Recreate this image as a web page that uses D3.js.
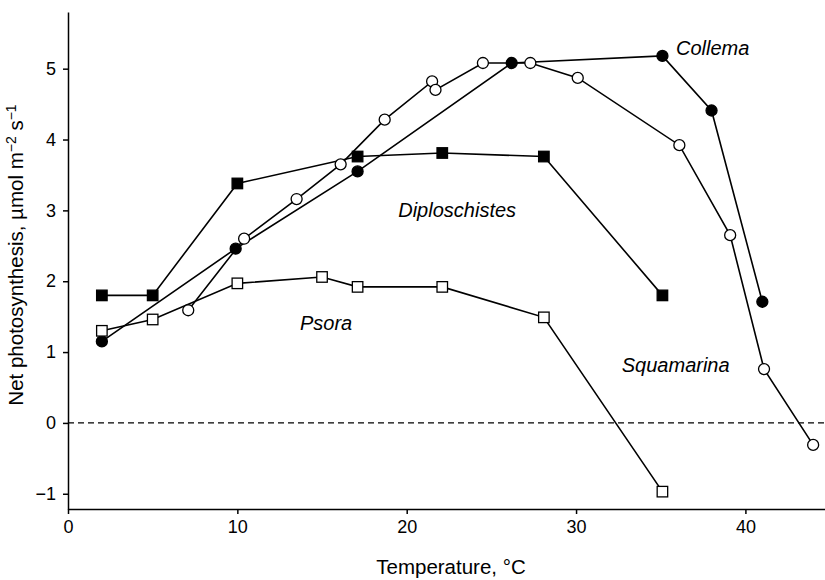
<!DOCTYPE html>
<html>
<head>
<meta charset="utf-8">
<script src="https://cdn.jsdelivr.net/npm/d3@7"></script>
<style>
  body { margin: 0; background: #fff; }
  svg text { font-family: "Liberation Sans", Arial, sans-serif; fill: #000; }
  .axis path, .axis line { stroke: #000; stroke-width: 1.5; }
  .axis text { font-size: 18px; }
  .line { fill: none; stroke: #000; stroke-width: 1.6; }
  .species { font-size: 20px; font-style: italic; }
</style>
</head>
<body>
<div id="chart"></div>
<script>
// Data (temperature, net photosynthesis)
var collemaT = [2, 9.9, 17.1, 26.2, 35.1, 38.0, 41.0];
var collemaP = [1.15, 2.46, 3.55, 5.08, 5.18, 4.41, 1.71];

var squamarinaT = [7.1, 10.4, 13.5, 16.1, 18.7, 21.5, 21.7, 24.5, 27.3, 30.1, 36.1, 39.1, 41.1, 44.0];
var squamarinaP = [1.59, 2.6, 3.16, 3.65, 4.28, 4.82, 4.70, 5.08, 5.08, 4.87, 3.92, 2.65, 0.76, -0.31];

var diploT = [2, 5, 10, 17.1, 22.1, 28.1, 35.1];
var diploP = [1.80, 1.80, 3.38, 3.76, 3.81, 3.76, 1.80];

var psoraT = [2, 5, 10, 15, 17.1, 22.1, 28.1, 35.1];
var psoraP = [1.30, 1.46, 1.97, 2.06, 1.92, 1.92, 1.49, -0.97];

var xTicks = [0, 10, 20, 30, 40];
var yTicks = [-1, 0, 1, 2, 3, 4, 5];

// Dimensions
var W = 825, H = 580;
var margins = {top: 12, right: 0, bottom: 71, left: 68};

var svg = d3.select("#chart").append("svg")
  .attr("width", W)
  .attr("height", H);

var x = d3.scaleLinear().domain([0, 44.7]).range([margins.left, W - margins.right]);
var y = d3.scaleLinear().domain([-1.215, 5.8]).range([H - margins.bottom, margins.top]);

function zip(ts, ps) {
  return ts.map(function(t, i) { return {t: t, p: ps[i]}; });
}

var series = [
  {name: "Collema", data: zip(collemaT, collemaP), shape: "circle", fill: "#000"},
  {name: "Squamarina", data: zip(squamarinaT, squamarinaP), shape: "circle", fill: "#fff"},
  {name: "Diploschistes", data: zip(diploT, diploP), shape: "square", fill: "#000"},
  {name: "Psora", data: zip(psoraT, psoraP), shape: "square", fill: "#fff"}
];

// Axes
svg.append("g")
  .attr("class", "axis")
  .attr("transform", "translate(0," + y.range()[0] + ")")
  .call(d3.axisBottom(x).tickValues(xTicks).tickSize(5).tickSizeOuter(0).tickPadding(6));

svg.append("g")
  .attr("class", "axis")
  .attr("transform", "translate(" + margins.left + ",0)")
  .call(d3.axisLeft(y).tickValues(yTicks).tickSize(5).tickSizeOuter(0).tickPadding(7)
    .tickFormat(function(d) { return d < 0 ? "\u2212" + Math.abs(d) : d; }));

// zero line
svg.append("line")
  .attr("x1", x(0)).attr("x2", x.range()[1])
  .attr("y1", y(0)).attr("y2", y(0))
  .attr("stroke", "#000")
  .attr("stroke-width", 1.2)
  .attr("stroke-dasharray", "6,4");

var line = d3.line()
  .x(function(d) { return x(d.t); })
  .y(function(d) { return y(d.p); });

// lines first, then markers on top
series.forEach(function(s) {
  svg.append("path").datum(s.data)
    .attr("class", "line")
    .attr("d", line);
});

series.forEach(function(s) {
  var g = svg.append("g");
  if (s.shape == "circle") {
    g.selectAll("circle").data(s.data).enter().append("circle")
      .attr("cx", function(d) { return x(d.t); })
      .attr("cy", function(d) { return y(d.p); })
      .attr("r", 5.5)
      .attr("fill", s.fill)
      .attr("stroke", "#000")
      .attr("stroke-width", 1.3);
  } else {
    var sz = 10.5;
    g.selectAll("rect").data(s.data).enter().append("rect")
      .attr("x", function(d) { return x(d.t) - sz / 2; })
      .attr("y", function(d) { return y(d.p) - sz / 2; })
      .attr("width", sz).attr("height", sz)
      .attr("fill", s.fill)
      .attr("stroke", "#000")
      .attr("stroke-width", 1.3);
  }
});

// species labels
var labels = [
  {text: "Collema", t: 35.9, p: 5.20},
  {text: "Diploschistes", t: 19.5, p: 2.90},
  {text: "Psora", t: 13.7, p: 1.31},
  {text: "Squamarina", t: 32.7, p: 0.72}
];
svg.selectAll(".species").data(labels).enter().append("text")
  .attr("class", "species")
  .attr("x", function(d) { return x(d.t); })
  .attr("y", function(d) { return y(d.p); })
  .text(function(d) { return d.text; });

// axis titles
svg.append("text")
  .attr("x", 451).attr("y", 574)
  .attr("text-anchor", "middle")
  .attr("font-size", 20.5)
  .text("Temperature, \u00B0C");

var yl = svg.append("text")
  .attr("transform", "translate(23,255) rotate(-90)")
  .attr("text-anchor", "middle")
  .attr("font-size", 20.5);
yl.append("tspan").text("Net photosynthesis, \u00B5mol m");
yl.append("tspan").attr("dy", -7).attr("font-size", 14).text("\u22122");
yl.append("tspan").attr("dy", 7).text(" s");
yl.append("tspan").attr("dy", -7).attr("font-size", 14).text("\u22121");
</script>
</body>
</html>
